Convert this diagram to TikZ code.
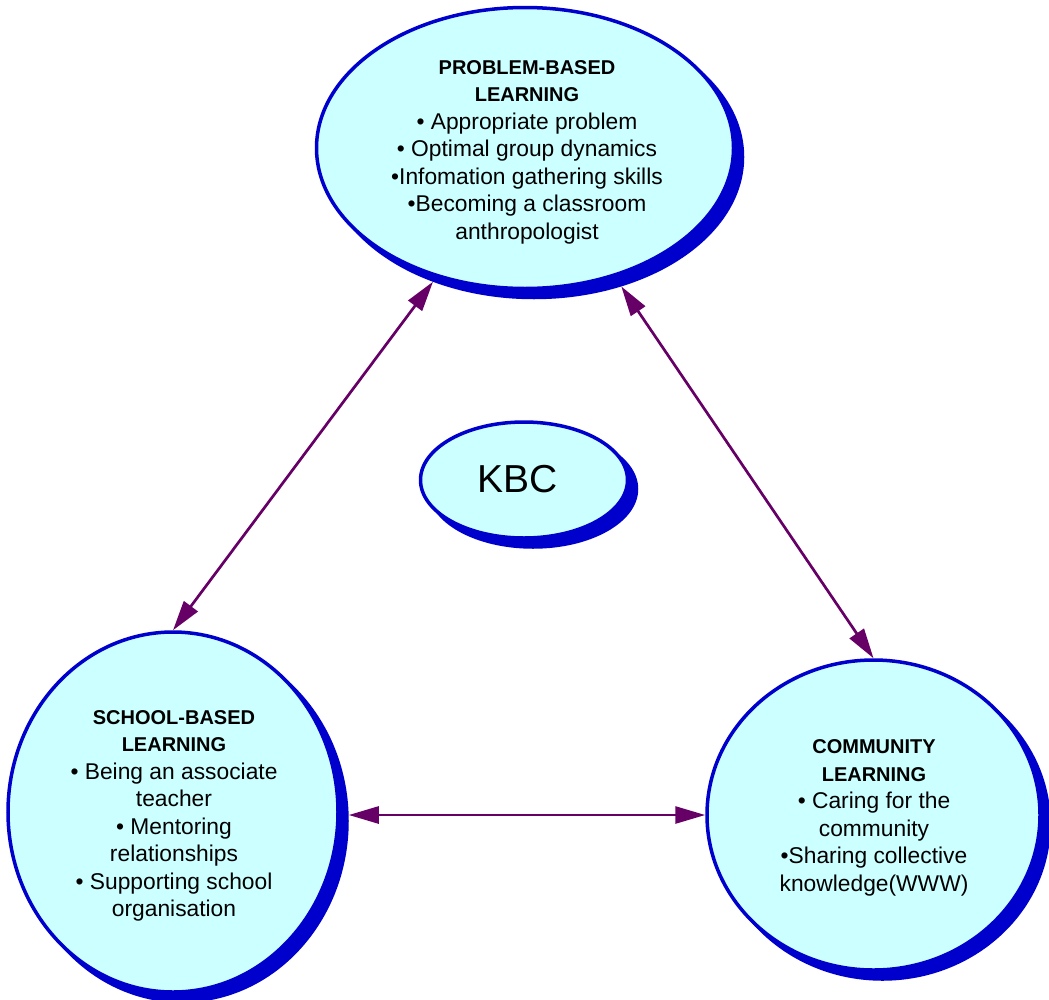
\documentclass[tikz,border=0pt]{standalone}
\usepackage{fontspec}
\setmainfont{Liberation Sans}
\usetikzlibrary{shapes.geometric,arrows.meta}
\definecolor{fillc}{RGB}{204,255,255}
\definecolor{edgec}{RGB}{0,0,204}
\definecolor{arrc}{RGB}{102,0,102}
\tikzset{
  bubble/.style={ellipse, draw=edgec, line width=3.5pt, fill=fillc, inner sep=0pt},
  shadowblob/.style={ellipse, fill=edgec, draw=edgec, line width=3.5pt, inner sep=0pt},
  bodytext/.style={align=center, inner sep=0pt, font=\fontsize{22.8}{27.5}\selectfont},
  link/.style={draw=arrc, line width=2.7pt,
    {Triangle[length=30pt,width=17pt]}-{Triangle[length=30pt,width=17pt]}},
}
\newcommand\ttl[1]{{\fontsize{20}{27.5}\selectfont\bfseries #1}}
\begin{document}
\begin{tikzpicture}[x=1pt,y=-1pt]
\useasboundingbox (0,0) rectangle (1049,999);
% shadows
\node[shadowblob, minimum width=417pt, minimum height=281pt] (topS) at (534,157) {};
\node[shadowblob, minimum width=207pt, minimum height=116pt] (kbcS) at (533,489) {};
\node[shadowblob, minimum width=330pt, minimum height=360pt] (leftS) at (182,821) {};
\node[shadowblob, minimum width=333pt, minimum height=310pt] (rightS) at (882.5,824) {};
% main ellipses
\node[bubble, minimum width=417pt, minimum height=281pt] (top) at (525,148) {};
\node[bubble, minimum width=207pt, minimum height=116pt] (kbc) at (524,480) {};
\node[bubble, minimum width=330pt, minimum height=360pt] (left) at (173,812) {};
\node[bubble, minimum width=333pt, minimum height=310pt] (right) at (873.5,815) {};
% texts
\node[bodytext] (topT) at (527,152)
  {\ttl{PROBLEM-BASED}\\ \ttl{LEARNING}\\ • Appropriate problem\\ • Optimal group dynamics\\ •Infomation gathering skills\\ •Becoming a classroom\\ anthropologist};
\node[inner sep=0pt, font=\fontsize{39}{45}\selectfont] (kbcT) at (518,479) {KBC};
\node[bodytext] (leftT) at (174,816)
  {\ttl{SCHOOL-BASED}\\ \ttl{LEARNING}\\ • Being an associate\\ teacher\\ • Mentoring\\ relationships\\ • Supporting school\\ organisation};
\node[bodytext] (rightT) at (874,818)
  {\ttl{COMMUNITY}\\ \ttl{LEARNING}\\ • Caring for the\\ community\\ •Sharing collective\\ knowledge(WWW)};
% connectors
\draw[link] (topS.231) -- (left.north);
\draw[link] (topS.304) -- (right.north);
\draw[link] (leftS.east |- right.west) -- (right.west);
\end{tikzpicture}
\end{document}
